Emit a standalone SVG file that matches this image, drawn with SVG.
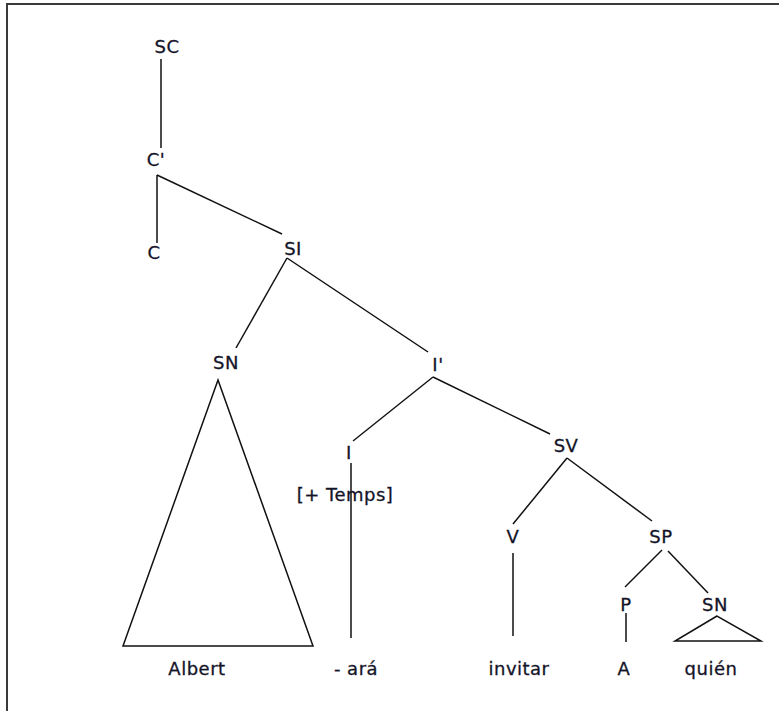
<svg xmlns="http://www.w3.org/2000/svg" width="779" height="711" viewBox="0 0 779 711">
<style>
.lbl{font-family:"DejaVu Sans","Verdana",sans-serif;font-size:18px;fill:#141428;stroke:#141428;stroke-width:0.3;text-anchor:middle;letter-spacing:0.5px}
.ln{stroke:#111;stroke-width:1.5;fill:none;stroke-linecap:butt}
.frame{stroke:#3a3a3a;stroke-width:2;fill:none}
</style>
<rect x="0" y="0" width="779" height="711" fill="#fff"/>
<path class="frame" d="M7 711 V4 H779"/>
<g id="connectors">
<line class="ln" x1="161" y1="59" x2="161" y2="148"/>
<line class="ln" x1="157" y1="175" x2="157" y2="243"/>
<line class="ln" x1="157" y1="175" x2="282" y2="234"/>
<line class="ln" x1="287" y1="258" x2="236" y2="348"/>
<line class="ln" x1="287" y1="258" x2="428" y2="352"/>
<line class="ln" x1="433" y1="377" x2="353" y2="441"/>
<line class="ln" x1="433" y1="377" x2="550" y2="434"/>
<polygon class="ln" points="218,380 123,646 313,646"/>
<line class="ln" x1="351" y1="463" x2="351" y2="638"/>
<line class="ln" x1="567" y1="458" x2="513" y2="524"/>
<line class="ln" x1="567" y1="458" x2="652" y2="521"/>
<line class="ln" x1="513" y1="553" x2="513" y2="636"/>
<line class="ln" x1="662" y1="550" x2="625" y2="587"/>
<line class="ln" x1="668" y1="551" x2="708" y2="593"/>
<line class="ln" x1="626" y1="613" x2="626" y2="642"/>
<polygon class="ln" points="717,616 675,641 761,641"/>
</g>
<g id="n-SC"><text class="lbl" x="167" y="53">SC</text></g>
<g id="n-Cbar"><text class="lbl" x="156" y="166">C'</text></g>
<g id="n-C"><text class="lbl" x="154" y="259">C</text></g>
<g id="n-SI"><text class="lbl" x="293" y="255">SI</text></g>
<g id="n-SN1"><text class="lbl" x="226" y="369">SN</text></g>
<g id="n-Ibar"><text class="lbl" x="438" y="371">I'</text></g>
<g id="n-I"><text class="lbl" x="349" y="459">I</text></g>
<g id="n-temps"><text class="lbl" x="345" y="501">[+ Temps]</text></g>
<g id="n-SV"><text class="lbl" x="566" y="452">SV</text></g>
<g id="n-V"><text class="lbl" x="513" y="543">V</text></g>
<g id="n-SP"><text class="lbl" x="661" y="543">SP</text></g>
<g id="n-P"><text class="lbl" x="626" y="611">P</text></g>
<g id="n-SN2"><text class="lbl" x="715" y="611">SN</text></g>
<g id="n-Albert"><text class="lbl" x="197" y="675">Albert</text></g>
<g id="n-ara"><text class="lbl" x="356" y="675">- ará</text></g>
<g id="n-invitar"><text class="lbl" x="519" y="675">invitar</text></g>
<g id="n-A"><text class="lbl" x="624" y="675">A</text></g>
<g id="n-quien"><text class="lbl" x="711" y="675">quién</text></g>
</svg>
